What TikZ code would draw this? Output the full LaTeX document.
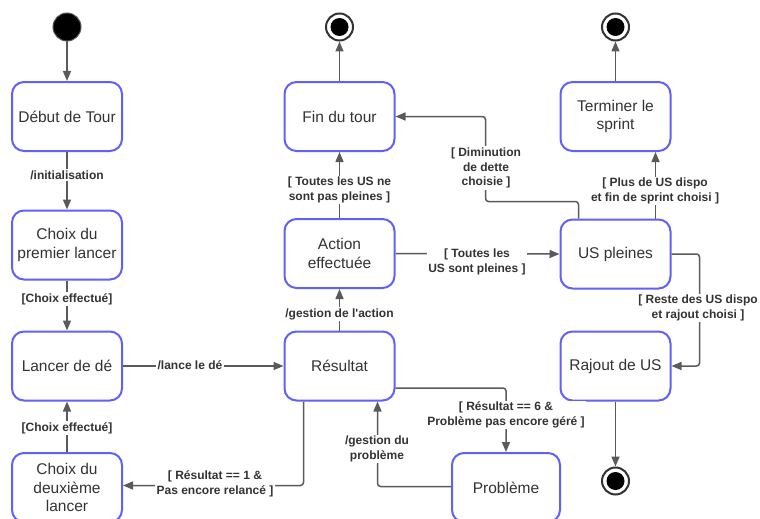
\documentclass[tikz,border=0pt]{standalone}
\usepackage{fontspec}
\setmainfont{Liberation Sans}
\usetikzlibrary{arrows.meta}
\definecolor{boxblue}{RGB}{96,96,250}
\definecolor{wire}{RGB}{90,90,90}
\definecolor{txt}{RGB}{51,51,51}
\tikzset{
  stbox/.style={draw=boxblue, line width=2pt, rounded corners=12pt, fill=white,
    minimum width=110pt, minimum height=69pt, align=center, text=txt,
    font=\fontsize{15.5}{18.5}\selectfont},
  conn/.style={draw=wire, line width=1.5pt, rounded corners=3pt,
    -{Triangle[length=10pt,width=8pt]}},
  lbl/.style={fill=white, inner sep=1.5pt, align=center, text=txt,
    font=\fontsize{12}{14.5}\selectfont\bfseries},
  startdot/.style={circle, fill=black, draw=wire, line width=1pt, minimum size=28pt, inner sep=0pt},
  endring/.style={circle, draw=txt, line width=2pt, fill=white, minimum size=27pt, inner sep=0pt},
  enddot/.style={circle, fill=black, minimum size=18pt, inner sep=0pt}
}
\begin{document}
\begin{tikzpicture}[x=1pt,y=-1pt]
\useasboundingbox (0,0) rectangle (760,519);

% start and end markers
\node[startdot] (init) at (67,27) {};
\node[endring] (endA) at (339.5,27) {};
\node[enddot] at (endA) {};
\node[endring] (endB) at (615.5,27) {};
\node[enddot] at (endB) {};
\node[endring] (endC) at (615.5,481) {};
\node[enddot] at (endC) {};

% states
\node[stbox] (deb) at (67,116.5) {Début de Tour};
\node[stbox] (ch1) at (67,245) {Choix du\\premier lancer};
\node[stbox] (lan) at (67,366) {Lancer de dé};
\node[stbox] (ch2) at (67,487.5) {Choix du\\deuxième\\lancer};
\node[stbox] (fin) at (339.5,116.5) {Fin du tour};
\node[stbox] (act) at (339.5,253.5) {Action\\effectuée};
\node[stbox] (res) at (339.5,366) {Résultat};
\node[stbox, minimum width=108pt] (prob) at (506,487.5) {Problème};
\node[stbox] (term) at (615.5,116.5) {Terminer le\\sprint};
\node[stbox] (usp) at (615.5,254) {US pleines};
\node[stbox] (raj) at (615.5,366) {Rajout de US};

% transitions
\draw[conn] (init) -- (deb);
\draw[conn] (deb) -- (ch1);
\draw[conn] (ch1) -- (lan);
\draw[conn] (ch2) -- (lan);
\draw[conn] (lan) -- (res);
\draw[conn] ([xshift=-36pt]res.south) |- ([yshift=2pt]ch2.east);
\draw[conn] (res) -- (act);
\draw[conn] (act) -- (fin);
\draw[conn] (fin) -- (endA);
\draw[conn] (act.east) -- (usp.west);
\draw[conn] ([xshift=-37pt]usp.north) -- ++(0,-17) -- ++(-93,0) |- (fin.east);
\draw[conn] ([xshift=40pt]usp.north) -- ([xshift=40pt]term.south);
\draw[conn] (term) -- (endB);
\draw[conn] (usp.east) -- ++(28,0) |- (raj.east);
\draw[conn] (raj) -- (endC);
\draw[conn] ([yshift=-22pt]res.east) -| (prob.north);
\draw[conn] ([yshift=1pt]prob.west) -| ([xshift=38pt]res.south);

% guards and actions
\node[lbl] (l1) at (67,175) {/initialisation};
\node[lbl] (l2) at (67,299) {[Choix effectué]};
\node[lbl] (l3) at (67,428) {[Choix effectué]};
\node[lbl] (l4) at (190,365) {/lance le dé};
\node[lbl] (l5) at (215,484) {[ Résultat == 1 \&\\Pas encore relancé ]};
\node[lbl] (l6) at (339.5,314) {/gestion de l\textquotesingle action};
\node[lbl] (l7) at (339.5,190) {[ Toutes les US ne\\sont pas pleines ]};
\node[lbl] (l8) at (477,262) {[ Toutes les\\US sont pleines ]};
\node[lbl] (l9) at (486,168) {[ Diminution\\de dette\\choisie ]};
\node[lbl] (l10) at (655,191) {[ Plus de US dispo\\et fin de sprint choisi ]};
\node[lbl] (l11) at (698,308) {[ Reste des US dispo\\et rajout choisi ]};
\node[lbl] (l12) at (506,415) {[ Résultat == 6 \&\\Problème pas encore géré ]};
\node[lbl] (l13) at (377,449) {/gestion du\\problème};
\end{tikzpicture}
\end{document}
